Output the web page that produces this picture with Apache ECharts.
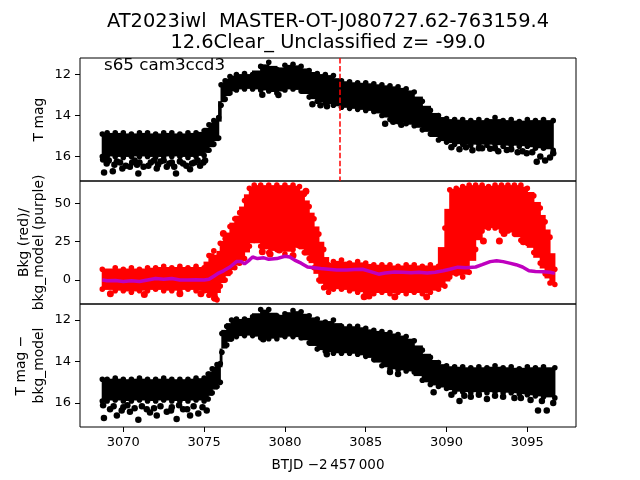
<!DOCTYPE html>
<html>
<head>
<meta charset="utf-8">
<script src="https://cdn.jsdelivr.net/npm/echarts@6/dist/echarts.min.js"></script>
<style>
html, body { margin: 0; padding: 0; background: #fff; }
#chart { width: 640px; height: 480px; }
</style>
</head>
<body>
<div id="chart"></div>
<script>
// panel 1: T mag, dense dot band (upper / lower edge) + loose dots
var magT = [3068.7, 3069.0, 3069.5, 3070.0, 3070.5, 3071.0, 3071.5, 3072.0, 3072.5, 3073.0, 3073.5, 3074.0, 3074.5, 3075.0, 3075.3, 3075.6, 3075.9, 3076.05, 3076.3, 3076.6, 3077.0, 3077.5, 3078.0, 3078.5, 3079.0, 3079.5, 3080.0, 3080.5, 3081.0, 3081.5, 3082.0, 3082.5, 3083.0, 3083.5, 3084.0, 3084.5, 3085.0, 3085.5, 3086.0, 3086.5, 3087.0, 3087.5, 3088.0, 3088.5, 3089.0, 3089.5, 3090.0, 3090.5, 3091.0, 3091.5, 3092.0, 3092.5, 3093.0, 3093.5, 3094.0, 3094.5, 3095.0, 3095.5, 3096.0, 3096.6];
var magUpper = [14.9, 14.85, 14.85, 14.85, 14.9, 14.85, 14.85, 14.9, 14.85, 14.85, 14.9, 14.85, 14.85, 14.75, 14.45, 14.25, 14.1, 12.5, 12.3, 12.1, 12.0, 11.95, 12.0, 11.6, 11.4, 11.75, 11.55, 11.5, 11.6, 11.8, 11.95, 12.0, 12.05, 12.3, 12.35, 12.4, 12.4, 12.45, 12.5, 12.55, 12.6, 12.7, 12.85, 13.3, 13.75, 14.0, 14.15, 14.2, 14.2, 14.25, 14.2, 14.25, 14.1, 14.25, 14.2, 14.3, 14.2, 14.25, 14.2, 14.25];
var magLower = [16.0, 16.0, 16.0, 16.05, 16.0, 16.0, 16.0, 16.05, 16.0, 16.0, 16.0, 16.05, 16.0, 15.95, 15.7, 15.4, 15.1, 13.5, 13.2, 12.9, 12.75, 12.7, 12.7, 12.75, 12.8, 12.9, 12.75, 12.7, 12.8, 13.1, 13.3, 13.4, 13.5, 13.6, 13.65, 13.7, 13.75, 13.8, 14.0, 14.2, 14.3, 14.4, 14.5, 14.7, 14.9, 15.2, 15.3, 15.4, 15.4, 15.45, 15.4, 15.45, 15.4, 15.5, 15.45, 15.5, 15.5, 15.6, 15.6, 15.7];
var magDotT = [3068.81, 3069.35, 3069.94, 3070.93, 3072.07, 3073.26, 3074.13, 3074.75, 3068.97, 3070.41, 3071.55, 3072.69, 3073.7, 3075.06, 3069.6, 3071.0, 3072.3, 3073.0, 3074.4, 3070.7, 3071.9,
    3068.75, 3069.1, 3069.45, 3069.8, 3070.15, 3070.55, 3070.85, 3071.25, 3071.7, 3072.15, 3072.5, 3072.85, 3073.15, 3073.5, 3073.9, 3074.25, 3074.6, 3074.95,
    3078.6, 3079.6, 3081.7, 3082.2, 3082.6, 3086.2, 3086.7, 3087.2, 3090.3, 3090.8, 3091.6, 3092.2, 3092.7, 3093.2, 3093.73, 3094.4, 3094.96, 3095.58, 3095.8, 3096.1, 3096.4, 3096.6,
    3091.2, 3092.0, 3093.0, 3094.0, 3094.7, 3095.3];
var magDotV = [16.78, 16.72, 16.59, 16.83, 16.59, 16.83, 16.63, 16.46, 16.34, 16.5, 16.46, 16.5, 16.34, 16.2, 16.25, 16.3, 16.25, 16.3, 16.3, 16.2, 16.2,
    16.15, 16.2, 16.4, 16.3, 16.45, 16.3, 16.4, 16.5, 16.3, 16.4, 16.2, 16.35, 16.5, 16.25, 16.45, 16.35, 16.2, 16.3,
    12.98, 13.0, 13.45, 13.5, 13.55, 14.4, 14.3, 14.45, 15.55, 15.65, 15.7, 15.6, 15.63, 15.75, 15.69, 15.8, 15.85, 16.26, 16.0, 16.2, 16.05, 15.85,
    15.55, 15.6, 15.6, 15.65, 15.75, 15.8];

// panel 2: background flux (red band) and background model (purple)
var bkgT = [3068.7, 3069.5, 3070.0, 3070.5, 3071.0, 3071.5, 3072.0, 3072.5, 3073.0, 3073.5, 3074.0, 3074.5, 3075.0, 3075.3, 3075.6, 3075.8, 3076.0, 3076.3, 3076.6, 3076.9, 3077.2, 3077.5, 3077.8, 3078.1, 3078.5, 3079.0, 3079.5, 3080.0, 3080.5, 3080.9, 3081.2, 3081.5, 3081.8, 3082.1, 3082.4, 3082.7, 3083.0, 3083.5, 3084.0, 3084.5, 3085.0, 3085.5, 3086.0, 3086.5, 3087.0, 3087.5, 3088.0, 3088.5, 3089.0, 3089.5, 3089.9, 3090.2, 3090.6, 3091.0, 3091.4, 3091.8, 3092.2, 3092.6, 3093.0, 3093.4, 3093.8, 3094.2, 3094.6, 3095.0, 3095.4, 3095.8, 3096.1, 3096.4, 3096.7];
var bkgLow = [-6, -7, -7, -8, -7, -7, -6, -7, -7, -7, -6, -7, -7, -10, -12, -13, -4, 0, 5, 8, 11, 14, 22, 26, 22, 18, 20, 17, 20, 22, 18, 14, 8, 0, -5, -8, -6, -6, -7, -8, -8, -9, -8, -9, -8, -9, -8, -9, -8, -6, -4, 2, 4, 2, 5, 20, 32, 34, 34, 32, 32, 30, 26, 24, 18, 11, 4, -2, -3];
var bkgHigh = [7, 8, 7, 8, 7, 8, 8, 9, 8, 9, 8, 9, 8, 16, 19, 14, 24, 27, 35, 40, 44, 52, 60, 62, 62, 62, 62, 62, 62, 61, 56, 48, 40, 30, 20, 10, 12, 13, 11, 12, 11, 10, 10, 10, 9, 10, 10, 9, 10, 9, 34, 59, 60, 61, 62, 62, 62, 61, 62, 62, 62, 62, 62, 60, 55, 47, 38, 28, 7];
var bkgDotT = [3076.19, 3078.6, 3079.08, 3079.65, 3080.5, 3081.3, 3075.67, 3088.77, 3092.28, 3093.27, 3093.56, 3094.75, 3069.2, 3071.3, 3073.5, 3074.8, 3084.9, 3085.2, 3086.8];
var bkgDotV = [30.4, 18.5, 17, 19.6, 16, 58, -12, -10.9, 25.4, 25.4, 30.4, 25, -9, -9.5, -9, -9, -11, -10.5, -11];
var modelT = [3068.7, 3069.0, 3069.5, 3070.0, 3070.5, 3071.0, 3071.5, 3072.0, 3072.5, 3073.0, 3073.5, 3074.0, 3074.5, 3075.0, 3075.3, 3075.6, 3075.9, 3076.2, 3076.6, 3077.0, 3077.3, 3077.5, 3077.8, 3078.0, 3078.3, 3078.7, 3079.0, 3079.5, 3080.0, 3080.3, 3080.6, 3081.0, 3081.4, 3081.8, 3082.2, 3082.7, 3083.2, 3083.8, 3084.3, 3084.8, 3085.3, 3085.8, 3086.2, 3086.8, 3087.3, 3087.8, 3088.3, 3088.8, 3089.3, 3089.8, 3090.2, 3090.7, 3091.2, 3091.8, 3092.2, 3092.7, 3093.1, 3093.5, 3093.9, 3094.3, 3094.7, 3095.1, 3095.5, 3096.0, 3096.4, 3096.7];
var modelV = [0, -0.5, -0.3, -1, -0.5, -1, 0, 1, 0.5, 1, 0, 0, 0.2, 0, 0.5, 2.5, 4.5, 6, 8.5, 12, 12, 10.5, 13, 15, 14, 14.5, 13.5, 14, 15.5, 15, 13, 11, 8.5, 8, 7.5, 7, 6.5, 6.5, 6.8, 7, 5.5, 3.8, 4.5, 5.2, 5, 4.8, 5, 4.5, 5, 6, 7, 8.4, 8, 8.5, 10, 12, 12.6, 12, 11, 10, 8.5, 6, 5.5, 5.4, 5, 4.3];

// panel 3: T mag - bkg_model
var diffT = [3068.7, 3069.0, 3069.5, 3070.0, 3070.5, 3071.0, 3071.5, 3072.0, 3072.5, 3073.0, 3073.5, 3074.0, 3074.5, 3075.0, 3075.25, 3075.5, 3075.8, 3076.0, 3076.1, 3076.4, 3076.7, 3077.0, 3077.5, 3078.0, 3078.5, 3079.0, 3079.5, 3080.0, 3080.5, 3081.0, 3081.5, 3082.0, 3082.5, 3083.0, 3083.5, 3084.0, 3084.5, 3085.0, 3085.5, 3086.0, 3086.5, 3087.0, 3087.5, 3088.0, 3088.5, 3089.0, 3089.5, 3090.0, 3090.5, 3091.0, 3091.5, 3092.0, 3092.5, 3093.0, 3093.5, 3094.0, 3094.5, 3095.0, 3095.5, 3096.0, 3096.7];
var diffUpper = [14.85, 14.85, 14.8, 14.85, 14.85, 14.8, 14.85, 14.85, 14.8, 14.85, 14.85, 14.85, 14.8, 14.8, 14.6, 14.35, 14.15, 14.1, 12.65, 12.3, 12.0, 11.95, 11.95, 11.85, 11.5, 11.5, 11.8, 11.7, 11.55, 11.6, 11.8, 11.95, 12.1, 12.0, 12.3, 12.3, 12.3, 12.4, 12.5, 12.55, 12.6, 12.7, 12.8, 13.0, 13.45, 13.8, 14.05, 14.2, 14.25, 14.25, 14.3, 14.25, 14.3, 14.2, 14.3, 14.25, 14.35, 14.25, 14.3, 14.25, 14.3];
var diffLower = [15.9, 15.9, 15.85, 15.9, 15.9, 15.85, 15.9, 15.9, 15.85, 15.9, 15.9, 15.9, 15.85, 15.9, 15.8, 15.5, 15.2, 15.0, 13.55, 13.2, 12.9, 12.8, 12.75, 12.75, 12.85, 12.9, 12.9, 12.8, 12.8, 12.85, 13.1, 13.4, 13.5, 13.6, 13.6, 13.6, 13.65, 13.75, 13.9, 14.2, 14.35, 14.4, 14.45, 14.5, 14.9, 15.1, 15.2, 15.3, 15.45, 15.45, 15.5, 15.45, 15.5, 15.45, 15.5, 15.5, 15.55, 15.6, 15.65, 15.7, 15.75];
var diffDotT = [3068.8, 3069.6, 3070.93, 3072.07, 3073.3, 3074.13, 3075.16, 3069.18, 3070.41, 3071.45, 3072.69, 3073.7, 3074.64, 3070.0, 3071.9, 3073.0, 3074.9,
    3068.75, 3069.4, 3069.9, 3070.25, 3070.7, 3071.15, 3071.65, 3072.3, 3072.95, 3073.45, 3073.95, 3074.35,
    3078.66, 3082.59, 3086.5, 3087.0, 3089.2, 3090.8, 3091.5, 3092.5, 3093.5, 3094.2, 3095.2, 3095.66, 3096.2, 3096.6,
    3090.3, 3091.1, 3092.0, 3093.0, 3094.6, 3095.9];
var diffDotV = [16.72, 16.6, 16.8, 16.6, 16.77, 16.6, 16.35, 16.3, 16.42, 16.3, 16.42, 16.3, 16.5, 16.2, 16.25, 16.2, 16.2,
    16.1, 16.15, 16.35, 16.1, 16.25, 16.15, 16.45, 16.15, 16.35, 16.1, 16.3, 16.15,
    12.93, 13.65, 14.5, 14.6, 15.48, 15.9, 15.7, 15.8, 15.7, 15.75, 15.85, 16.36, 16.36, 16.0,
    15.6, 15.65, 15.6, 15.65, 15.75, 15.9];

var xTicks = [3070, 3075, 3080, 3085, 3090, 3095];
var magTicks = [12, 14, 16];
var bkgTicks = [0, 25, 50];
var cutT = 3083.41; // red dashed marker

var FONT = 'DejaVu Sans';

function zip (a, b) {
    return a.map(function (v, i) { return [v, b[i]] });
}

// dense dot cloud: every sample fills a column to the next sample
// (thick vertical stroke), with round blobs on its edge samples
function bandSeries (idx, t, up, lo, color, extra) {
    var rows = t.map(function (v, i) { return [v, up[i], lo[i]] });
    var s = {
        type: 'custom',
        xAxisIndex: idx,
        yAxisIndex: idx,
        data: rows,
        encode: { x: 0, y: [1, 2] },
        silent: true,
        renderItem: function (params, api) {
            var i = params.dataIndex;
            var a = rows[i];
            var top = api.coord([a[0], a[1]]).slice();
            var bot = api.coord([a[0], a[2]]).slice();
            var kids = [];
            if (i < rows.length - 1) {
                var b = rows[i + 1];
                var top2 = api.coord([b[0], b[1]]).slice();
                var bot2 = api.coord([b[0], b[2]]).slice();
                var y1 = (top[1] + top2[1]) / 2;
                var y2 = (bot[1] + bot2[1]) / 2;
                kids.push({
                    type: 'line',
                    shape: { x1: (top[0] + top2[0]) / 2, y1: Math.min(y1, y2), x2: (top[0] + top2[0]) / 2, y2: Math.max(y1, y2) },
                    style: { stroke: color, lineWidth: top2[0] - top[0] + 1.2, lineCap: 'butt' }
                });
            }
            kids.push({ type: 'circle', shape: { cx: top[0], cy: top[1], r: 2.8 }, style: { fill: color } });
            kids.push({ type: 'circle', shape: { cx: bot[0], cy: bot[1], r: 2.8 }, style: { fill: color } });
            return { type: 'group', children: kids };
        }
    };
    return Object.assign(s, extra || {});
}

function dotSeries (idx, t, v, color, size) {
    return {
        type: 'scatter',
        xAxisIndex: idx,
        yAxisIndex: idx,
        data: zip(t, v),
        symbolSize: size,
        itemStyle: { color: color, opacity: 1 },
        silent: true
    };
}

var chart = echarts.init(document.getElementById('chart'), null, { renderer: 'canvas' });

var grids = [
    { left: 80, top: 58, width: 496, height: 123 },
    { left: 80, top: 181, width: 496, height: 123 },
    { left: 80, top: 304, width: 496, height: 123 }
].map(function (g) {
    return Object.assign(g, { show: true, borderColor: '#000', borderWidth: 1, backgroundColor: 'transparent' });
});

var xAxes = [0, 1, 2].map(function (i) {
    var last = i === 2;
    return {
        type: 'value',
        gridIndex: i,
        min: 3067.32,
        max: 3098.01,
        axisLine: { show: false },
        splitLine: { show: false },
        axisTick: { show: last, length: 5, lineStyle: { color: '#000' }, customValues: xTicks },
        axisLabel: {
            show: last, margin: 9, color: '#000', fontSize: 13, fontFamily: FONT, customValues: xTicks,
            formatter: function (v) { return String(v) }
        },
        name: last ? 'BTJD \u22122\u2009457\u2009000' : '',
        nameLocation: 'middle',
        nameGap: 31,
        nameTextStyle: { color: '#000', fontSize: 13.5, fontFamily: FONT }
    };
});

function yAxis (i, min, max, inverse, ticks) {
    return {
        type: 'value',
        gridIndex: i,
        min: min,
        max: max,
        inverse: inverse,
        axisLine: { show: false },
        splitLine: { show: false },
        axisTick: { show: true, length: 5, lineStyle: { color: '#000' }, customValues: ticks },
        axisLabel: { margin: 9, color: '#000', fontSize: 13, fontFamily: FONT, customValues: ticks }
    };
}

function yLabel (text, x, y) {
    return {
        type: 'text',
        x: x,
        y: y,
        rotation: Math.PI / 2,
        style: { text: text, fill: '#000', font: '13.9px "DejaVu Sans"', align: 'center', verticalAlign: 'middle' }
    };
}

var option = {
    animation: false,
    backgroundColor: '#fff',
    title: {
        text: 'AT2023iwl  MASTER-OT-J080727.62-763159.4\n12.6Clear_ Unclassified z= -99.0',
        left: 328,
        top: 11,
        padding: 0,
        textAlign: 'center',
        textStyle: { color: '#000', fontWeight: 'normal', fontSize: 19.4, lineHeight: 21.5, fontFamily: FONT }
    },
    grid: grids,
    xAxis: xAxes,
    yAxis: [
        yAxis(0, 11.19, 17.2, true, magTicks),
        yAxis(1, -15.7, 64.7, false, bkgTicks),
        yAxis(2, 11.23, 17.15, true, magTicks)
    ],
    graphic: [
        { type: 'text', x: 104, y: 65.5, style: { text: 's65 cam3ccd3', fill: '#000', font: '16.7px "DejaVu Sans"', align: 'left', verticalAlign: 'middle' } },
        yLabel('T mag', 39, 119.5),
        yLabel('Bkg (red)/', 24, 242.5),
        yLabel('bkg_model (purple)', 39.5, 242.5),
        yLabel('T mag \u2212', 21.5, 365.5),
        yLabel('bkg_model', 39.5, 365.5)
    ],
    series: [
        bandSeries(0, magT, magUpper, magLower, '#000', {
            markLine: {
                silent: true,
                symbol: ['none', 'none'],
                label: { show: false },
                lineStyle: { color: '#ff0000', width: 1.5, type: [5.5, 2.4] },
                data: [{ xAxis: cutT }]
            }
        }),
        dotSeries(0, magDotT, magDotV, '#000', 6.5),
        bandSeries(1, bkgT, bkgHigh, bkgLow, '#ff0000'),
        dotSeries(1, bkgDotT, bkgDotV, '#ff0000', 7),
        {
            type: 'line',
            xAxisIndex: 1,
            yAxisIndex: 1,
            data: zip(modelT, modelV),
            showSymbol: false,
            lineStyle: { color: '#bf00bf', width: 3.5 },
            silent: true,
            z: 5
        },
        bandSeries(2, diffT, diffUpper, diffLower, '#000'),
        dotSeries(2, diffDotT, diffDotV, '#000', 6.5)
    ]
};

option && chart.setOption(option);
</script>
</body>
</html>
